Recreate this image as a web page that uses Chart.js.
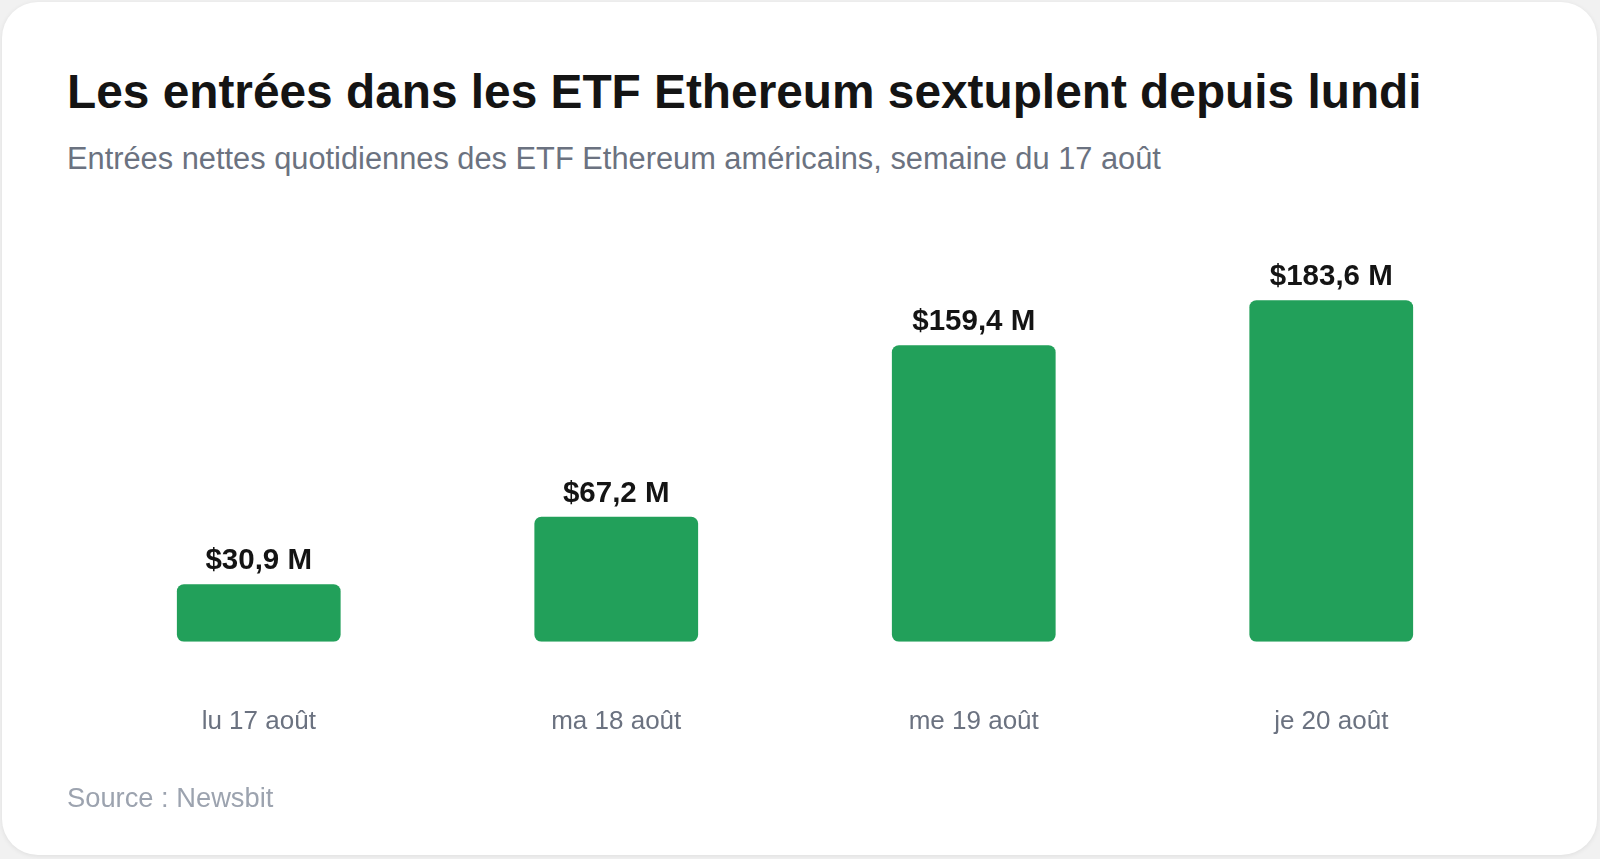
<!DOCTYPE html>
<html lang="fr">
<head>
<meta charset="utf-8">
<script src="https://cdn.jsdelivr.net/npm/chart.js@4.4.1/dist/chart.umd.min.js"></script>
<style>
  html, body { margin: 0; padding: 0; }
  body { width: 1600px; height: 859px; background: #f1f1f1; position: relative; overflow: hidden;
         font-family: "Liberation Sans", Arial, sans-serif; }
  .card { position: absolute; left: 2px; top: 2px; width: 1595px; height: 853px; background: #fff;
          border-radius: 36px; box-shadow: 0 1px 5px rgba(0,0,0,0.08); }
  .title { position: absolute; left: 67px; top: 68px; font-size: 47.8px; line-height: 1; font-weight: bold; color: #141414; white-space: nowrap; }
  .subtitle { position: absolute; left: 67px; top: 144px; font-size: 30.8px; line-height: 1; color: #6b7280; white-space: nowrap; }
  .source { position: absolute; left: 67px; top: 784px; font-size: 27.3px; line-height: 1; color: #9ca3af; white-space: nowrap; }
  .chartbox { position: absolute; left: 0; top: 200px; width: 1600px; height: 598px; }
</style>
</head>
<body>
<div class="card"></div>
<div class="title">Les entrées dans les ETF Ethereum sextuplent depuis lundi</div>
<div class="subtitle">Entrées nettes quotidiennes des ETF Ethereum américains, semaine du 17 août</div>
<div class="chartbox"><canvas id="c"></canvas></div>
<div class="source">Source : Newsbit</div>
<script>
// données (millions de dollars)
const days = ['lu 17 août', 'ma 18 août', 'me 19 août', 'je 20 août'];
const inflows = [30.9, 67.2, 159.4, 183.6];
const valueLabels = ['$30,9 M', '$67,2 M', '$159,4 M', '$183,6 M'];

// étiquettes au-dessus des barres
const barLabels = {
  id: 'barLabels',
  afterDatasetsDraw(chart) {
    const ctx = chart.ctx;
    const meta = chart.getDatasetMeta(0);
    ctx.save();
    ctx.font = 'bold 29.5px "Liberation Sans", Arial, sans-serif';
    ctx.fillStyle = '#141414';
    ctx.textAlign = 'center';
    ctx.textBaseline = 'alphabetic';
    meta.data.forEach((bar, i) => {
      ctx.fillText(valueLabels[i], bar.x, bar.y - 15);
    });
    ctx.restore();
  }
};

new Chart(document.getElementById('c'), {
  type: 'bar',
  data: {
    labels: days,
    datasets: [{
      data: inflows,
      backgroundColor: '#22a05a',
      borderRadius: 7,
      borderSkipped: false,
      categoryPercentage: 1,
      barPercentage: 0.458
    }]
  },
  options: {
    responsive: true,
    maintainAspectRatio: false,
    animation: false,
    layout: { padding: { left: 80, right: 90, top: 51, bottom: 5 } },
    plugins: { legend: { display: false }, tooltip: { enabled: false } },
    scales: {
      x: {
        grid: { display: false },
        border: { display: false },
        ticks: {
          padding: 56,
          color: '#6b7280',
          font: { family: '"Liberation Sans", Arial, sans-serif', size: 26 }
        }
      },
      y: { display: false, min: 0, max: 210 }
    }
  },
  plugins: [barLabels]
});
</script>
</body>
</html>
